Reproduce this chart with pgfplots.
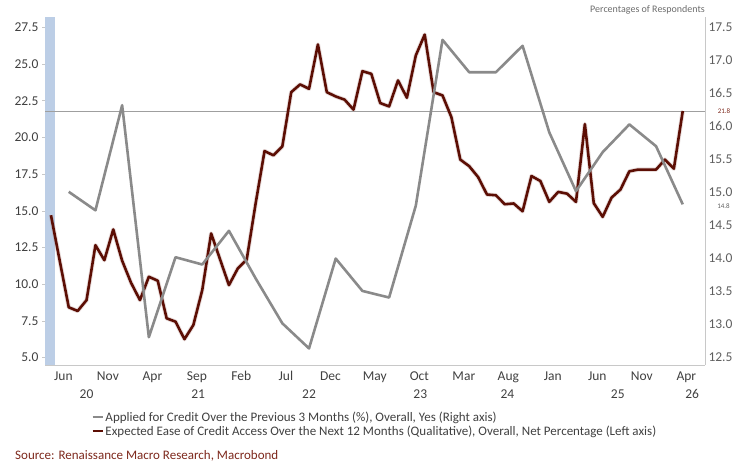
\documentclass[border=0pt]{standalone}
\usepackage{pgfplots}
\pgfplotsset{compat=1.18}
\usepackage{pgfplotstable}
\usepackage{fontspec}
\setmainfont{Carlito}

\definecolor{ered}{RGB}{92,14,4}
\definecolor{agray}{RGB}{138,138,138}
\definecolor{shade}{RGB}{188,206,230}
\definecolor{src}{RGB}{125,40,28}
\definecolor{txt}{RGB}{64,64,64}
\definecolor{rtxt}{RGB}{95,95,95}
\definecolor{frame}{RGB}{200,200,200}

% Expected ease of credit access, net percentage (left axis); m = months since May 2020
\pgfplotstableread{
m val
0 14.70
1 11.55
2 8.43
3 8.18
4 8.92
5 12.66
6 11.64
7 13.73
8 11.60
9 10.10
10 8.92
11 10.51
12 10.24
13 7.68
14 7.45
15 6.26
16 7.22
17 9.60
18 13.46
19 11.70
20 9.94
21 11.08
22 11.69
23 15.50
24 19.07
25 18.78
26 19.39
27 23.08
28 23.61
29 23.31
30 26.33
31 23.08
32 22.79
33 22.57
34 21.89
35 24.51
36 24.33
37 22.34
38 22.11
39 23.88
40 22.70
41 25.58
42 27.00
43 23.08
44 22.86
45 21.38
46 18.49
47 18.04
48 17.30
49 16.11
50 16.06
51 15.45
52 15.50
53 14.97
54 17.37
55 17.03
56 15.61
57 16.29
58 16.17
59 15.61
60 20.91
61 15.52
62 14.59
63 15.90
64 16.45
65 17.69
66 17.81
67 17.81
68 17.81
69 18.49
70 17.87
71 21.80
}\easetable

% Applied for credit over the previous 3 months, % yes (right axis)
\pgfplotstableread{
m val
2 15.01
5 14.73
8 16.32
11 12.81
14 14.02
17 13.91
20 14.42
23 13.70
26 13.02
29 12.64
32 14.00
35 13.51
38 13.41
41 14.80
44 17.31
47 16.82
50 16.82
53 17.22
56 15.91
59 15.02
62 15.61
65 16.03
68 15.70
71 14.82
}\appliedtable

\begin{document}
\begin{tikzpicture}[x=1pt,y=1pt]
\path[use as bounding box] (0,0) rectangle (750,-464);

\begin{axis}[
  at={(45pt,-365pt)}, anchor=south west,
  scale only axis, width=660pt, height=348pt,
  xmin=-0.67, xmax=73.5, ymin=4.5, ymax=28.2,
  clip=false,
  axis x line*=bottom, axis y line*=left,
  x axis line style={draw=frame, line width=0.8pt},
  y axis line style={draw=none},
  tick align=outside,
  major tick length=3pt,
  ytick={5,7.5,10,12.5,15,17.5,20,22.5,25,27.5},
  ytick style={draw=frame, line width=0.6pt},
  yticklabel style={text=txt, /pgf/number format/.cd, fixed, fixed zerofill, precision=1},
  scaled y ticks=false,
  xtick={1.4,6.4,11.4,16.4,21.4,26.4,31.4,36.4,41.4,46.4,51.4,56.4,61.4,66.4,71.4},
  xticklabels={Jun,Nov,Apr,Sep,Feb,Jul,Dec,May,Oct,Mar,Aug,Jan,Jun,Nov,Apr},
  xtick style={draw=none},
  xticklabel style={text=txt},
  extra x ticks={4.0,16.55,29.0,41.5,51.3,63.7,72.05},
  extra x tick labels={20,21,22,23,24,25,26},
  extra x tick style={tick style={draw=none}, tick label style={yshift=-18pt, text=txt}},
  tick label style={font=\fontsize{13.5}{16}\selectfont},
  /pgf/number format/assume math mode=true,
]
  % shaded band at the left edge
  \addplot[draw=none, fill=shade] coordinates {(-0.67,4.5) (0.45,4.5) (0.45,28.2) (-0.67,28.2)} -- cycle;
  % reference level at the latest reading
  \addplot[draw=gray!75, line width=0.8pt] coordinates {(-0.67,21.8) (73.5,21.8)};
  \addplot[ered!55, line width=4.4pt, opacity=0.25, line join=round] table[x=m, y=val] {\easetable};
  \addplot[ered, line width=2.6pt, line join=round] table[x=m, y=val] {\easetable};
  \node[font=\fontsize{7}{8}\selectfont, text=src] at (axis cs:73.5,21.8) [xshift=19pt] {21.8};
\end{axis}

\begin{axis}[
  at={(45pt,-365pt)}, anchor=south west,
  scale only axis, width=660pt, height=348pt,
  xmin=-0.67, xmax=73.5, ymin=12.3889, ymax=17.6556,
  clip=false,
  axis x line=none, axis y line*=right,
  y axis line style={draw=frame, line width=0.8pt},
  major tick length=0pt,
  ytick={12.5,13,13.5,14,14.5,15,15.5,16,16.5,17,17.5},
  ytick style={draw=none},
  yticklabel style={text=rtxt, font=\fontsize{13.5}{16}\selectfont, /pgf/number format/.cd, fixed, fixed zerofill, precision=1},
  scaled y ticks=false,
  /pgf/number format/assume math mode=true,
  legend style={draw=none, fill=none, at={(0.0656,-0.1250)}, anchor=north west,
    font=\fontsize{13}{14}\selectfont, text=txt, row sep=1pt,
    nodes={inner xsep=1.5pt, inner ysep=1pt}},
  legend cell align=left,
  legend image code/.code={\draw[#1, line width=2.5pt, opacity=1] (0pt,0pt) -- (10pt,0pt);},
]
  \addplot[agray, line width=2.6pt, line join=round] table[x=m, y=val] {\appliedtable};
  \addlegendentry{Applied for Credit Over the Previous 3 Months (\%), Overall, Yes (Right axis)}
  \addlegendimage{ered}
  \addlegendentry{Expected Ease of Credit Access Over the Next 12 Months (Qualitative), Overall, Net Percentage (Left axis)}
  \node[font=\fontsize{7}{8}\selectfont, text=rtxt] at (axis cs:73.5,14.8) [xshift=18.5pt] {14.8};
\end{axis}

\node[anchor=east, inner sep=0pt, text=gray!85!black, font=\fontsize{10}{11}\selectfont] at (705,-9.5) {Percentages of Respondents};
\node[anchor=west, inner sep=0pt, text=src, font=\fontsize{13}{15}\selectfont] at (15,-456.3) {Source: Renaissance Macro Research, Macrobond};
\end{tikzpicture}
\end{document}
